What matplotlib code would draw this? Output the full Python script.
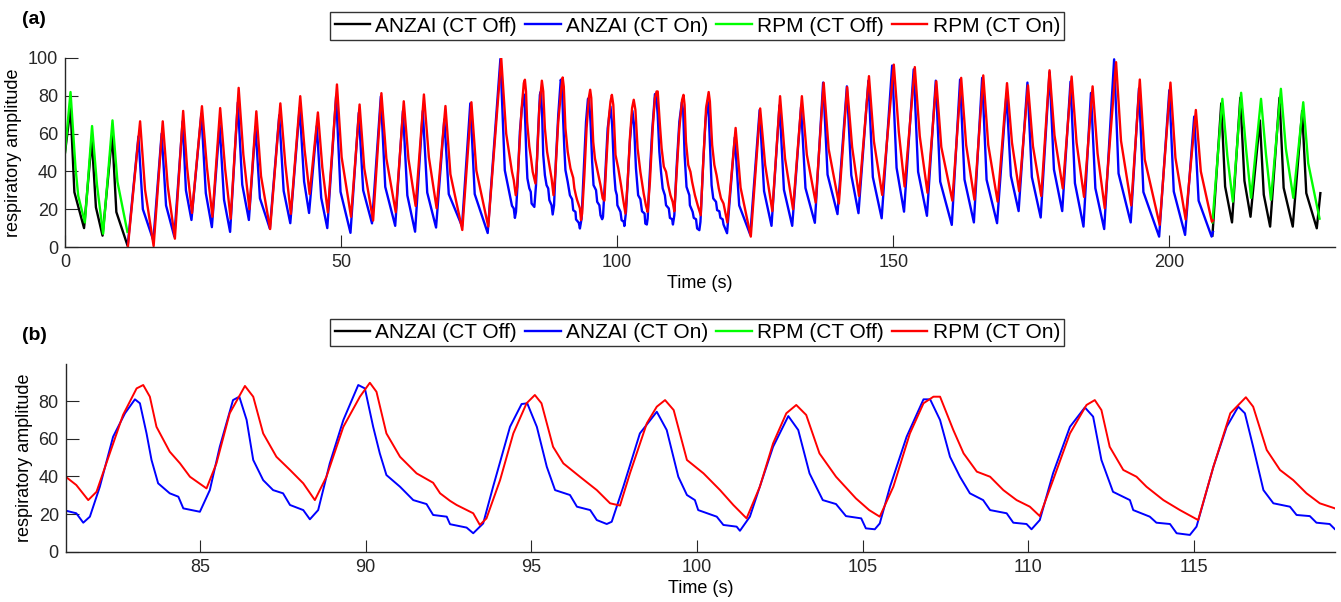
import numpy as np
import matplotlib
matplotlib.use("Agg")
from matplotlib import pyplot as plt

plt.rcParams['font.family'] = ['Liberation Sans', 'DejaVu Sans']

# respiratory traces, (time s, amplitude)
anzai_off_start = [(0, 50), (1.0, 73.6), (1.7, 29), (3.45, 10), (4.85, 57), (5.6, 21), (6.8, 6),
                   (8.55, 59.5), (9.3, 18.5), (11.3, 1)]
anzai_off_end = [(207.8, 6), (209.4, 76), (210.1, 32), (211.35, 13), (212.85, 79), (213.6, 35), (214.7, 16),
                 (216.4, 67), (217.1, 27.7), (218.25, 10.8), (219.95, 79), (220.7, 31.3), (222.35, 10.8),
                 (224.05, 72), (224.8, 28.5), (226.7, 9.9), (227.35, 28.5)]

rpm_off_start = [(0, 50), (1.0, 82), (1.9, 42), (2.4, 27), (3.6, 13), (4.9, 64), (5.8, 32.7), (6.9, 7),
                 (8.6, 67), (9.5, 34.5), (11.3, 8)]
rpm_off_end = [(207.8, 13), (209.6, 78.4), (210.5, 48.3), (211.5, 24), (213.0, 81.6), (213.9, 51.7), (214.8, 26),
               (216.6, 78.4), (217.5, 49), (218.4, 25), (220.2, 83.7), (221.1, 52), (222.45, 26),
               (224.25, 76.6), (225.15, 44.3), (227.2, 15)]

anzai_on = [
    (11.4, 2),
    (13.3, 58.5), (14.1, 20), (16.0, 3.5),
    (17.5, 60), (18.3, 22), (19.8, 5.5),
    (21.3, 66.5), (21.9, 30), (22.9, 14.3),
    (24.7, 70.5), (25.5, 28.5), (26.6, 10.5),
    (28.0, 64.5), (28.8, 25), (29.9, 8),
    (31.3, 76.5), (32.1, 33), (33.3, 14.3),
    (34.5, 63.5), (35.3, 25.8), (37.1, 9.7),
    (38.8, 69.7), (39.6, 29.7), (40.8, 12.6),
    (42.5, 73.6), (43.3, 34.7), (44.2, 18),
    (45.6, 64), (46.4, 26), (47.5, 10),
    (49.1, 79.7), (49.9, 29.2), (51.7, 7.5),
    (53.2, 71), (54.0, 30), (55.6, 12.5),
    (57.2, 79.7), (58.0, 31.8), (59.8, 11.2),
    (61.2, 72), (62.0, 27.3), (63.4, 8.1),
    (64.8, 72), (65.6, 28.8), (67.2, 10.3),
    (68.7, 67.5), (69.5, 28), (71.9, 11),
    (73.4, 76), (74.2, 28), (76.55, 7.4),
    (78.85, 99.5), (79.65, 40.6),
    (80.95, 21.8), (81.27, 20.4), (81.48, 15.4), (81.68, 18.6), (81.98, 34.5), (82.38, 61), (82.74, 73.5),
    (83.04, 80.9), (83.19, 78.8), (83.39, 62.8), (83.54, 48.7), (83.74, 36.3), (84.09, 31), (84.35, 29.2),
    (84.5, 23), (85.0, 21.2),
    (85.3, 32.7), (85.6, 55.7), (86.0, 80.5), (86.19, 82.3), (86.41, 70), (86.61, 48.7), (86.91, 38),
    (87.21, 32.7), (87.51, 31), (87.72, 24.8), (88.12, 22.1), (88.32, 17.2),
    (88.57, 22.1), (88.92, 46.9), (89.33, 69.9), (89.78, 88.5), (89.98, 86.7), (90.23, 66.3), (90.43, 52.2),
    (90.63, 40.7), (91.04, 34.5), (91.44, 27.4), (91.84, 25.3), (92.04, 19.5), (92.45, 18.6), (92.55, 14.6),
    (93.05, 12.8), (93.25, 9.8),
    (93.55, 15), (93.85, 34.5), (94.36, 66.3), (94.71, 78.4), (94.88, 78.8), (95.17, 66.3), (95.47, 45.1),
    (95.72, 32.7), (96.17, 30.1), (96.38, 23.9), (96.78, 22.1), (96.98, 16.8), (97.28, 14.7),
    (97.43, 15.9), (97.78, 34.5), (98.28, 62.8), (98.79, 74.3), (99.09, 64.6), (99.44, 39.8), (99.7, 30.1),
    (99.94, 27.4), (100.04, 22.1), (100.6, 18.6), (100.8, 14.2), (101.2, 13.3), (101.3, 11.1),
    (101.6, 18.6), (101.9, 34.5), (102.3, 55.7), (102.76, 72), (103.06, 64.6), (103.4, 41.6), (103.8, 27.4),
    (104.2, 25.3), (104.5, 18.9), (104.96, 17.7), (105.1, 12.4), (105.37, 11.9),
    (105.52, 15), (105.83, 34.5), (106.33, 61), (106.84, 80.9), (107.04, 80.9), (107.34, 69.9), (107.64, 50.4),
    (107.94, 39.8), (108.24, 31), (108.64, 27.4), (108.85, 22.1), (109.35, 20.4), (109.55, 15.4),
    (109.95, 14.7), (110.1, 11.9),
    (110.35, 16.8), (110.75, 41.6), (111.26, 66.3), (111.71, 76.6), (111.96, 71.7), (112.21, 48.7),
    (112.56, 31.8), (113.07, 27.4), (113.17, 22.1), (113.67, 18.6), (113.87, 15.4), (114.28, 14.7),
    (114.48, 9.8), (114.88, 8.9),
    (115.08, 13.3), (115.59, 45.1), (115.99, 66.3), (116.34, 77), (116.54, 73.5), (116.79, 55.7), (117.1, 32.7),
    (117.4, 25.7), (117.9, 23.9), (118.1, 19.5), (118.5, 18.9), (118.7, 15.4), (119.1, 14.7), (119.26, 11.9),
    (119.9, 7.3),
    (121.3, 58), (122.1, 22), (124.1, 6.5),
    (125.8, 72.5), (126.6, 29.6), (127.95, 11.2),
    (129.4, 75), (130.2, 30.3), (131.7, 11.2),
    (133.3, 74), (134.1, 31.2), (135.8, 12.8),
    (137.3, 87), (138.1, 38.3), (139.9, 17.4),
    (141.6, 85), (142.4, 38), (143.7, 17.9),
    (145.5, 88), (146.3, 37), (147.9, 15.2),
    (149.8, 96), (150.6, 41.9), (151.95, 18.7),
    (153.7, 94), (154.5, 39.8), (156.1, 16.5),
    (157.7, 88), (158.5, 34.6), (160.6, 11.7),
    (162.1, 88.6), (162.9, 35.7), (164.6, 13),
    (166.1, 89.5), (166.9, 35.6), (168.8, 12.6),
    (170.5, 81), (171.3, 37.6), (172.7, 19),
    (174.3, 87), (175.1, 37), (176.7, 15.6),
    (178.3, 92.5), (179.1, 41), (180.6, 19),
    (182.1, 87.5), (182.9, 33.8), (184.45, 10.8),
    (185.8, 81.5), (186.6, 31.1), (188.2, 9.5),
    (190.0, 99.3), (190.8, 38.9), (193.0, 13),
    (194.5, 84), (195.3, 29.1), (198.15, 5.5),
    (200.0, 83), (200.8, 29.4), (202.85, 6.4),
    (204.5, 69), (205.3, 24.5), (207.65, 5.5),
    (207.9, 8),
]

rpm_on = [
    (11.4, 0.5),
    (13.6, 66.5), (14.5, 30.2), (16.05, 0.5),
    (17.7, 66.5), (18.6, 32.3), (19.9, 4.4),
    (21.4, 72), (22.1, 42.3), (23.0, 18),
    (24.8, 74.5), (25.7, 42.3), (26.7, 16),
    (28.1, 73.5), (29.0, 41.3), (30.0, 15),
    (31.45, 84.2), (32.3, 48.9), (33.4, 20),
    (34.65, 71.8), (35.5, 37.5), (37.15, 9.5),
    (39.0, 76), (39.9, 43.8), (40.9, 17.5),
    (42.6, 79.8), (43.4, 51.3), (44.3, 28),
    (45.8, 71.2), (46.6, 42.1), (47.6, 18.3),
    (49.25, 86), (50.1, 47.5), (51.8, 16),
    (53.35, 75.4), (54.2, 41.6), (55.8, 14),
    (57.3, 81.4), (58.2, 46.8), (59.9, 18.4),
    (61.35, 77.1), (62.2, 46.6), (63.5, 21.7),
    (65.0, 80.7), (65.9, 47.5), (67.3, 20.5),
    (68.9, 74.6), (69.8, 38.5), (71.95, 9),
    (73.6, 76.6), (74.5, 40.4), (76.65, 10.8),
    (79.0, 100), (79.9, 60),
    (80.95, 39.8), (81.27, 35.4), (81.63, 27.4), (81.88, 31.8), (82.28, 52.2), (82.68, 72.6), (83.09, 86.7),
    (83.29, 88.5), (83.49, 82.3), (83.69, 66.3), (84.09, 53.1), (84.4, 46.9), (84.7, 39.8), (85.2, 33.6),
    (85.5, 46.9), (85.9, 73.5), (86.36, 88), (86.61, 82.3), (86.91, 62.8), (87.31, 50.4), (87.72, 43.4),
    (88.12, 36.3), (88.47, 27.4),
    (88.82, 39.8), (89.33, 66.3), (89.83, 82.3), (90.13, 89.7), (90.33, 84.9), (90.63, 62.8), (91.04, 50.4),
    (91.54, 41.6), (92.04, 36.6), (92.25, 31), (92.55, 27), (92.75, 24.8), (93.25, 20.4), (93.45, 14.2),
    (93.65, 17.7), (94.06, 38), (94.46, 62.8), (94.86, 78.8), (95.11, 83.2), (95.31, 78.8), (95.66, 55.7),
    (95.97, 46.9), (96.47, 39.8), (96.98, 32.7), (97.38, 25.7), (97.68, 24.5),
    (97.98, 41.6), (98.49, 68.2), (98.79, 77), (99.04, 80.5), (99.3, 75.2), (99.7, 48.7), (100.2, 41.6),
    (100.7, 32.7), (101.1, 24.8), (101.5, 17.7),
    (101.9, 34.5), (102.3, 57.5), (102.7, 73.5), (103.0, 77.9), (103.3, 72.6), (103.7, 52.2), (104.2, 39.8),
    (104.8, 28.3), (105.2, 22.1), (105.52, 18.6),
    (105.93, 34.5), (106.43, 62.8), (106.84, 78.8), (107.14, 82.3), (107.34, 82.3), (107.74, 64.6),
    (108.05, 52.2), (108.45, 42.5), (108.85, 39.8), (109.25, 32.7), (109.65, 27.4), (110.05, 23.9),
    (110.35, 18.9),
    (110.75, 38), (111.26, 62.8), (111.76, 77.9), (112.01, 80.5), (112.21, 75.2), (112.46, 55.7),
    (112.87, 43.4), (113.27, 39.8), (113.57, 34.5), (114.08, 27.4), (114.58, 22.1), (115.13, 16.8),
    (115.59, 45.1), (116.1, 73.5), (116.57, 82), (116.79, 77), (117.2, 54), (117.6, 43.4), (118.0, 38),
    (118.4, 31), (118.8, 25.7), (119.26, 23),
    (119.95, 13),
    (121.45, 63), (122.35, 31.4), (124.2, 5.5),
    (125.9, 73.3), (126.8, 43.4), (128.1, 19),
    (129.5, 79.8), (130.4, 46.9), (131.85, 20),
    (133.45, 79.8), (134.35, 48.8), (135.95, 23.5),
    (137.4, 86.9), (138.3, 51.8), (140.15, 23),
    (141.65, 84.6), (142.55, 52.9), (143.8, 27),
    (145.6, 90.4), (146.5, 55.8), (148.0, 27.5),
    (150.1, 96.5), (151.0, 61), (152.05, 32),
    (153.9, 95.2), (154.8, 58.6), (156.2, 28.7),
    (157.8, 87.7), (158.7, 52.9), (160.7, 24.5),
    (162.3, 89.5), (163.2, 54), (164.7, 25),
    (166.3, 90.8), (167.2, 54), (168.9, 24),
    (170.6, 86.7), (171.5, 55.2), (172.8, 29.5),
    (174.4, 85.5), (175.3, 53.3), (176.8, 27),
    (178.3, 93.5), (179.2, 59.1), (180.7, 31),
    (182.3, 90.2), (183.2, 55.2), (184.55, 26.5),
    (186.1, 85), (187.0, 49.5), (188.3, 20.5),
    (190.35, 97.8), (191.25, 56.1), (193.1, 22),
    (194.65, 88.6), (195.55, 46.3), (198.25, 11.7),
    (200.2, 87), (201.1, 47.2), (202.95, 14.6),
    (204.8, 72.5), (205.7, 40), (207.7, 13.4),
    (207.9, 14),
]

labels = ['ANZAI (CT Off)', 'ANZAI (CT On)', 'RPM (CT Off)', 'RPM (CT On)']
colors = ['k', (0, 0, 1), (0, 1, 0), (1, 0, 0)]
axis_col = '#262626'


def xy(pairs):
    arr = np.array(pairs, dtype=float)
    return arr[:, 0], arr[:, 1]


def draw(ax, lw):
    handles = []
    for segs, lab, col in [([anzai_off_start, anzai_off_end], labels[0], colors[0]),
                           ([anzai_on], labels[1], colors[1]),
                           ([rpm_off_start, rpm_off_end], labels[2], colors[2]),
                           ([rpm_on], labels[3], colors[3])]:
        for i, seg in enumerate(segs):
            t, v = xy(seg)
            ln, = ax.plot(t, v, color=col, lw=lw, label=lab if i == 0 else None)
        handles.append(ln)
    for s in ['top', 'right']:
        ax.spines[s].set_visible(False)
    for s in ['left', 'bottom']:
        ax.spines[s].set_color(axis_col)
        ax.spines[s].set_linewidth(1.0)
    ax.tick_params(direction='in', length=9, width=0.8, colors=axis_col, labelsize=13,
                   top=False, right=False, pad=5)
    ax.set_xlabel('Time (s)', fontsize=13, labelpad=3)
    ax.set_ylabel('respiratory amplitude', fontsize=13, labelpad=4)
    return handles


fig = plt.figure(figsize=(13.41, 6.02), dpi=100)
W, H = 1341.0, 602.0

ax1 = fig.add_axes([65 / W, 1 - 247 / H, 1270 / W, 189 / H])
h = draw(ax1, 1.7)
ax1.set_xlim(0, 230)
ax1.set_ylim(0, 100)
ax1.set_xticks([0, 50, 100, 150, 200])
ax1.set_yticks([0, 20, 40, 60, 80, 100])

ax2 = fig.add_axes([65.7 / W, 1 - 551.7 / H, 1269.3 / W, 187.4 / H])
draw(ax2, 1.4)
ax2.set_xlim(80.95, 119.26)
ax2.set_ylim(0, 99.5)
ax2.set_xticks([85, 90, 95, 100, 105, 110, 115])
ax2.set_yticks([0, 20, 40, 60, 80])

for ycen in [1 - 26 / H, 1 - 332.5 / H]:
    leg = fig.legend(h, labels, loc='center', bbox_to_anchor=(0.52, ycen), ncol=4, fontsize=15,
                     frameon=True, fancybox=False, edgecolor='k', handlelength=1.7,
                     handletextpad=0.25, columnspacing=0.4, borderpad=0.2, borderaxespad=0)
    leg.get_frame().set_linewidth(1.0)

fig.text(22 / W, 1 - 20 / H, '(a)', fontsize=14, fontweight='bold', va='center', ha='left')
fig.text(22 / W, 1 - 335 / H, '(b)', fontsize=14, fontweight='bold', va='center', ha='left')

fig.savefig('out.png', dpi=100)
